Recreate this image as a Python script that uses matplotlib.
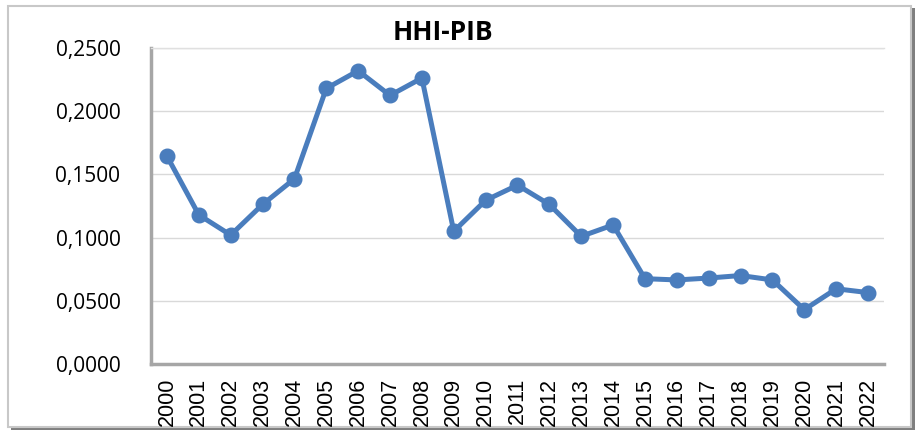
import matplotlib.pyplot as plt
from matplotlib.patches import Rectangle
from matplotlib.ticker import FuncFormatter

years = [str(y) for y in range(2000, 2023)]
hhi_pib = [0.1645, 0.1180, 0.1020, 0.1262, 0.1465, 0.2180, 0.2320, 0.2125, 0.2262,
           0.1050, 0.1295, 0.1415, 0.1262, 0.1010, 0.1100, 0.0675, 0.0665, 0.0680,
           0.0700, 0.0665, 0.0430, 0.0595, 0.0565]
y_ticks = [0.0, 0.05, 0.10, 0.15, 0.20, 0.25]

W, H = 916, 434
fig = plt.figure(figsize=(W / 100, H / 100), dpi=100)

# outer frame with shadow (behind the axes)
fig.patches.append(Rectangle((11 / W, 4 / H), 904 / W, 422 / H, transform=fig.transFigure,
                             facecolor='#7f7f7f', edgecolor='none', zorder=-2))
fig.patches.append(Rectangle((8 / W, 7 / H), 903 / W, 421 / H, transform=fig.transFigure,
                             facecolor='white', edgecolor='#c8c8c8', linewidth=1.5, zorder=-1))

ax = fig.add_axes([151 / W, 70 / H, 733 / W, 316 / H])
ax.patch.set_alpha(0)
x = range(len(years))
ax.plot(x, hhi_pib, color='#4a7dbd', linewidth=3.6, marker='o', markersize=10.5,
        solid_joinstyle='round', zorder=3)

ax.set_xlim(-0.5, len(years) - 0.5)
ax.set_ylim(0, 0.25)
ax.set_yticks(y_ticks)
ax.yaxis.set_major_formatter(FuncFormatter(lambda v, p: f"{v:.4f}".replace('.', ',')))
ax.set_xticks(list(x))
ax.set_xticklabels(years, rotation=90, fontsize=15.5, family='Liberation Sans')
for lab in ax.get_yticklabels():
    lab.set_fontsize(15)
    lab.set_family('Open Sans')
ax.tick_params(axis='both', length=0)
ax.tick_params(axis='y', pad=22)
ax.tick_params(axis='x', pad=10)

ax.grid(axis='y', color='#d9d9d9', linewidth=1)
ax.set_axisbelow(True)
ax.spines['right'].set_visible(False)
ax.spines['top'].set_color('#e0e0e0')
ax.spines['top'].set_linewidth(1)
ax.spines['left'].set_color('#a6a6a6')
ax.spines['left'].set_linewidth(2.5)
ax.spines['bottom'].set_color('#a6a6a6')
ax.spines['bottom'].set_linewidth(2.5)

fig.text(443 / W, 1 - 32 / H, 'HHI-PIB', ha='center', va='center', fontsize=19,
         fontweight='bold', family='Open Sans')

fig.savefig('out.png', dpi=100)
